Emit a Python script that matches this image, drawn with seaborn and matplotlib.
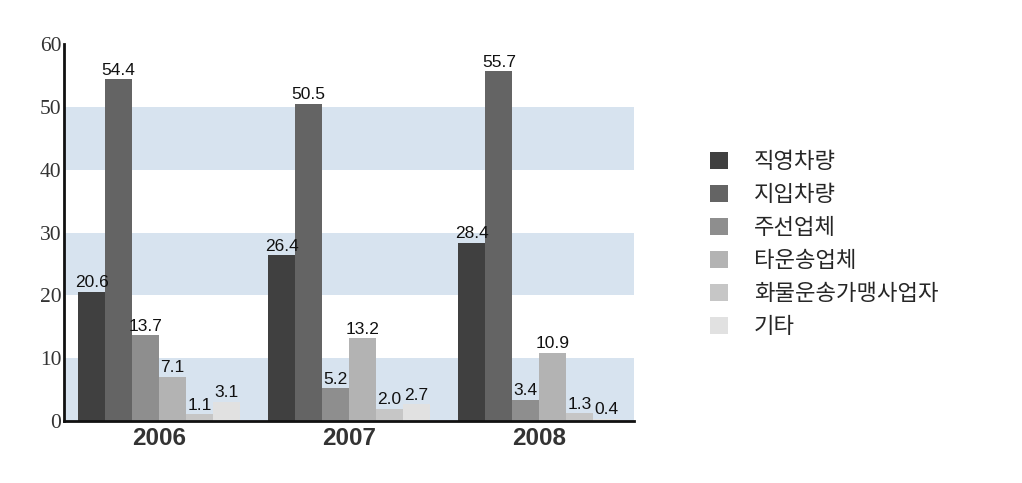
import matplotlib
matplotlib.use("Agg")
import matplotlib.pyplot as plt
import seaborn as sns
import pandas as pd

years = ["2006", "2007", "2008"]
categories = ["직영차량", "지입차량", "주선업체", "타운송업체", "화물운송가맹사업자", "기타"]
values = {
    "직영차량": [20.6, 26.4, 28.4],
    "지입차량": [54.4, 50.5, 55.7],
    "주선업체": [13.7, 5.2, 3.4],
    "타운송업체": [7.1, 13.2, 10.9],
    "화물운송가맹사업자": [1.1, 2.0, 1.3],
    "기타": [3.1, 2.7, 0.4],
}
colors = ["#404040", "#646464", "#8e8e8e", "#b3b3b3", "#c6c6c6", "#e1e1e1"]
yticks = [0, 10, 20, 30, 40, 50, 60]

rows = []
for c in categories:
    for y, v in zip(years, values[c]):
        rows.append({"year": y, "cat": c, "value": v})
df = pd.DataFrame(rows)

sns.set_style("white")
plt.rcParams['font.family'] = ['Noto Sans CJK KR', 'DejaVu Sans']

fig = plt.figure(figsize=(10.22, 4.83), dpi=100)
ax = fig.add_axes([0.0626, 0.128, 0.558, 0.781])

for lo in (0, 20, 40):
    ax.axhspan(lo, lo + 10, color="#d7e3ef", zorder=0, lw=0)

sns.barplot(data=df, x="year", y="value", hue="cat", hue_order=categories,
            order=years, palette=colors, width=0.85, ax=ax, saturation=1,
            errorbar=None, zorder=2, linewidth=0, edgecolor="none")

for cont in ax.containers:
    ax.bar_label(cont, fmt="%.1f", padding=1, fontsize=12.5,
                 family="Liberation Sans", color="#111111")

ax.set_ylim(0, 60)
ax.set_xlim(-0.5, 2.5)
ax.set_yticks(yticks)
ax.set_yticklabels([str(t) for t in yticks], family="Liberation Serif",
                   fontsize=15.5, color="#333333")
ax.set_xticks(range(len(years)))
ax.set_xticklabels(years, family="Liberation Sans", fontsize=17.5,
                   fontweight="bold", color="#333333")
ax.tick_params(axis="both", length=0, pad=2)
ax.tick_params(axis="x", pad=4)
ax.set_xlabel("")
ax.set_ylabel("")
for s in ("top", "right"):
    ax.spines[s].set_visible(False)
for s in ("left", "bottom"):
    ax.spines[s].set_color("#111111")
    ax.spines[s].set_linewidth(2)

handles, labels = ax.get_legend_handles_labels()
ax.legend(handles, labels, loc="upper left", bbox_to_anchor=(0.695, 0.69),
          bbox_transform=fig.transFigure, frameon=False,
          handlelength=0.8, handleheight=0.8, handletextpad=1.15,
          labelspacing=0.45, borderpad=0, borderaxespad=0,
          prop={"family": "Noto Sans CJK KR", "size": 16})

fig.savefig("out.png", dpi=100, facecolor="white")
